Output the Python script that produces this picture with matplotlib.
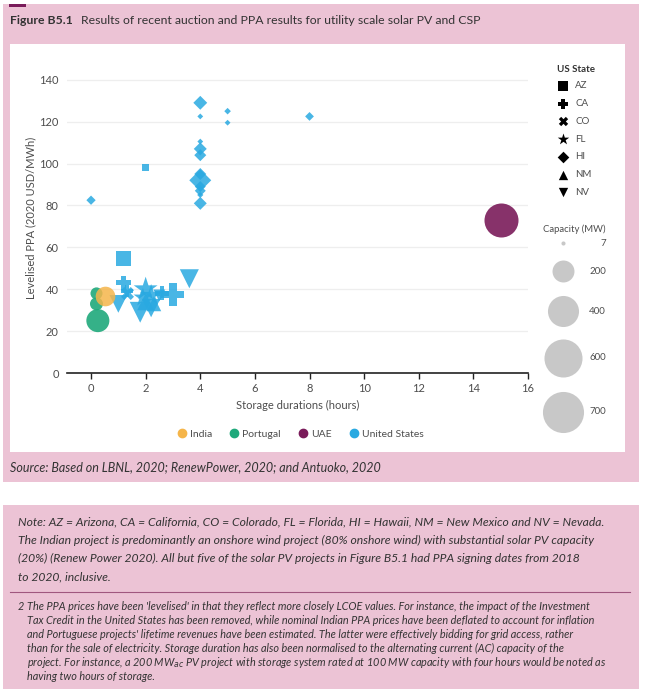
import numpy as np
import matplotlib.pyplot as plt
from matplotlib.patches import Rectangle
from matplotlib.lines import Line2D

plt.rcParams['font.family'] = ['Lato', 'DejaVu Sans']

# US projects: state, storage hours, levelised PPA, capacity (MW)
us_state = ['HI', 'HI', 'HI', 'HI', 'HI', 'HI', 'HI', 'HI', 'HI', 'HI', 'HI', 'HI', 'HI', 'HI', 'HI',
            'AZ', 'AZ',
            'CA', 'CA', 'CA', 'CA',
            'CO',
            'FL', 'FL', 'FL',
            'NM', 'NM',
            'NV', 'NV', 'NV', 'NV', 'NV']
us_hours = [0, 4, 4, 4, 4, 4, 4, 4, 4, 4, 4, 4, 5, 5, 8,
            2, 1.2,
            1.2, 3.0, 2.6, 1.3,
            1.3,
            2.0, 2.2, 1.9,
            2.0, 2.3,
            3.6, 1.0, 1.8, 2.2, 2.5]
us_ppa = [82.5, 129, 122.5, 110.5, 107, 104, 95, 92, 89, 87, 85, 81, 125, 119.5, 122.5,
          98, 54.5,
          43, 37.5, 38, 39,
          38,
          40, 37, 36,
          34, 33,
          45, 33, 29, 31, 37]
us_cap = [18, 40, 7, 7, 35, 30, 30, 100, 25, 25, 8, 35, 9, 7, 16,
          20, 90,
          90, 220, 80, 60,
          70,
          260, 220, 160,
          120, 90,
          150, 130, 180, 140, 60]

india_hours = [0.5]
india_ppa = [37]
india_cap = [160]

portugal_hours = [0.25, 0.2, 0.2]
portugal_ppa = [25, 33, 38]
portugal_cap = [220, 70, 60]

uae_hours = [15]
uae_ppa = [73]
uae_cap = [480]

states = ['AZ', 'CA', 'CO', 'FL', 'HI', 'NM', 'NV']
state_markers = {'AZ': 's', 'CA': 'P', 'CO': 'X', 'FL': '*', 'HI': 'D', 'NM': '^', 'NV': 'v'}
legend_caps = [7, 200, 400, 600, 700]

countries = ['India', 'Portugal', 'UAE', 'United States']
colors = {'India': '#f5b54a', 'Portugal': '#1fa97b', 'UAE': '#7a1b5a', 'United States': '#29a9e1'}

pink = '#ecc3d5'
grey = '#4d4d4d'
W, H = 647, 689


def size(cap):
    return 1.25 * np.asarray(cap, dtype=float)


def fx(px):
    return px / W


def fy(py):
    return 1 - py / H


fig = plt.figure(figsize=(W / 100, H / 100), dpi=100)

# page boxes
fig.patches.append(Rectangle((fx(3), fy(482)), fx(636), 478 / H, transform=fig.transFigure,
                             facecolor=pink, edgecolor='none', zorder=-3))
fig.patches.append(Rectangle((fx(10), fy(452)), fx(615), 408 / H, transform=fig.transFigure,
                             facecolor='white', edgecolor='none', zorder=-2))
fig.patches.append(Rectangle((fx(9), fy(7)), fx(17), 3 / H, transform=fig.transFigure,
                             facecolor='#7a1b5a', edgecolor='none', zorder=-1))
fig.patches.append(Rectangle((fx(3), 0), fx(636), 184 / H, transform=fig.transFigure,
                             facecolor=pink, edgecolor='none', zorder=-3))
fig.lines.append(Line2D([fx(10), fx(630)], [fy(592), fy(592)], transform=fig.transFigure,
                        color='#a0577f', lw=0.8))

# title
fig.text(fx(10), fy(20), 'Figure B5.1', fontsize=8.8, fontweight='bold', color='#333333', va='center')
fig.text(fx(81), fy(20), 'Results of recent auction and PPA results for utility scale solar PV and CSP',
         fontsize=8.8, color='#333333', va='center')

# main axes
ax = fig.add_axes([fx(67), fy(373), fx(528 - 67), (373 - 63) / H])
ax.set_xlim(-0.88, 16)
ax.set_ylim(0, 148)

for c, h, p, cap in [('Portugal', portugal_hours, portugal_ppa, portugal_cap),
                     ('UAE', uae_hours, uae_ppa, uae_cap)]:
    ax.scatter(h, p, s=size(cap), marker='o', color=colors[c], alpha=0.9, linewidths=0, zorder=3)

us_hours = np.array(us_hours)
us_ppa = np.array(us_ppa)
us_cap = np.array(us_cap)
us_state_arr = np.array(us_state)
for st in states:
    m = us_state_arr == st
    ax.scatter(us_hours[m], us_ppa[m], s=size(us_cap[m]), marker=state_markers[st],
               color=colors['United States'], alpha=0.85, linewidths=0, zorder=3)

ax.scatter(india_hours, india_ppa, s=size(india_cap), marker='o', color=colors['India'],
           alpha=0.85, linewidths=0, zorder=4)

ax.set_xticks(range(0, 17, 2))
ax.set_yticks(range(0, 141, 20))
ax.grid(axis='y', color='#eeeeee', lw=0.9)
ax.set_axisbelow(True)
for sp in ['top', 'right', 'left']:
    ax.spines[sp].set_visible(False)
ax.spines['bottom'].set_color('#222222')
ax.spines['bottom'].set_linewidth(1.2)
ax.tick_params(axis='y', length=0, labelsize=8, labelcolor=grey, pad=6)
ax.tick_params(axis='x', length=4, width=1, color='#222222', labelsize=8, labelcolor=grey)
ax.set_xlabel('Storage durations (hours)', fontsize=8, color=grey, labelpad=4)
ax.set_ylabel('Levelised PPA (2020 USD/MWh)', fontsize=8, color=grey, labelpad=2)

# country legend
handles = [Line2D([], [], marker='o', ls='', color=colors[c], markersize=6) for c in countries]
fig.legend(handles, countries, loc='center', bbox_to_anchor=(fx(300), fy(434)), ncol=4,
           frameon=False, fontsize=7.5, handletextpad=0.3, columnspacing=1.6,
           labelcolor=grey, handlelength=1)

# right-hand legends
lax = fig.add_axes([fx(535), fy(450), fx(90), 395 / H])
lax.set_xlim(535, 625)
lax.set_ylim(450, 55)
lax.axis('off')
lax.text(557, 69, 'US State', fontsize=7, fontweight='bold', color='#333333', va='center')
leg_sizes = {'AZ': 45, 'CA': 55, 'CO': 45, 'FL': 75, 'HI': 35, 'NM': 45, 'NV': 45}
for i, st in enumerate(states):
    y = 86 + i * 17.7
    lax.scatter([563], [y], marker=state_markers[st], s=leg_sizes[st], color='black', linewidths=0)
    lax.text(575, y, st, fontsize=7, color=grey, va='center')

lax.text(543, 229, 'Capacity (MW)', fontsize=6.8, color=grey, va='center')
cap_y = [243, 271, 311, 358, 412]
for c, y in zip(legend_caps, cap_y):
    lax.scatter([563], [y], s=size(c), marker='o', color='#c8c8c8', linewidths=0)
    lax.text(606, y, str(c), fontsize=7, color=grey, va='center', ha='right')

# source
fig.text(fx(10), fy(467), 'Source: Based on LBNL, 2020; RenewPower, 2020; and Antuoko, 2020',
         fontsize=9, fontstyle='italic', color='#333333', va='center')

note = ['Note: AZ = Arizona, CA = California, CO = Colorado, FL = Florida, HI = Hawaii, NM = New Mexico and NV = Nevada.',
        'The Indian project is predominantly an onshore wind project (80% onshore wind) with substantial solar PV capacity',
        '(20%) (Renew Power 2020). All but five of the solar PV projects in Figure B5.1 had PPA signing dates from 2018',
        'to 2020, inclusive.']
for i, line in enumerate(note):
    fig.text(fx(18), fy(522 + i * 18.2), line, fontsize=8.7, fontstyle='italic', color='#333333', va='center')

foot = ["The PPA prices have been 'levelised' in that they reflect more closely LCOE values. For instance, the impact of the Investment",
        'Tax Credit in the United States has been removed, while nominal Indian PPA prices have been deflated to account for inflation',
        "and Portuguese projects' lifetime revenues have been estimated. The latter were effectively bidding for grid access, rather",
        'than for the sale of electricity. Storage duration has also been normalised to the alternating current (AC) capacity of the',
        'project. For instance, a 200 MW$_{ac}$ PV project with storage system rated at 100 MW capacity with four hours would be noted as',
        'having two hours of storage.']
fig.text(fx(18), fy(606), '2', fontsize=7.8, fontstyle='italic', color='#333333', va='center')
for i, line in enumerate(foot):
    fig.text(fx(27), fy(606 + i * 14), line, fontsize=7.8, fontstyle='italic', color='#333333', va='center')

fig.savefig('out.png', dpi=100)
